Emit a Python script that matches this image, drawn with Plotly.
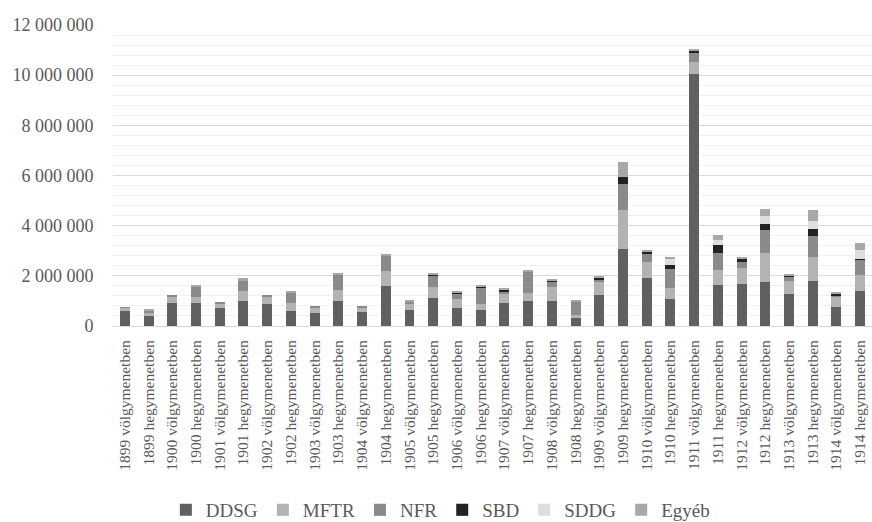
import plotly.graph_objects as go

# Categories: year + direction of travel
categories = [
    "1899 völgymenetben", "1899 hegymenetben",
    "1900 völgymenetben", "1900 hegymenetben",
    "1901 völgymenetben", "1901 hegymenetben",
    "1902 völgymenetben", "1902 hegymenetben",
    "1903 völgymenetben", "1903 hegymenetben",
    "1904 völgymenetben", "1904 hegymenetben",
    "1905 völgymenetben", "1905 hegymenetben",
    "1906 völgymenetben", "1906 hegymenetben",
    "1907 völgymenetben", "1907 hegymenetben",
    "1908 völgymenetben", "1908 hegymenetben",
    "1909 völgymenetben", "1909 hegymenetben",
    "1910 völgymenetben", "1910 hegymenetben",
    "1911 völgymenetben", "1911 hegymenetben",
    "1912 völgymenetben", "1912 hegymenetben",
    "1913 völgymenetben", "1913 hegymenetben",
    "1914 völgymenetben", "1914 hegymenetben",
]

# Carried tonnage per company
ddsg = [600000, 400000, 930000, 930000, 720000, 1000000, 880000, 600000,
        520000, 1000000, 560000, 1590000, 640000, 1130000, 720000, 640000,
        920000, 980000, 1000000, 300000, 1230000, 3060000, 1930000, 1060000,
        10050000, 1630000, 1660000, 1770000, 1260000, 1810000, 740000, 1380000]
mftr = [120000, 100000, 240000, 240000, 180000, 400000, 310000, 330000,
        200000, 430000, 170000, 600000, 230000, 430000, 360000, 230000,
        370000, 340000, 560000, 130000, 530000, 1580000, 640000, 460000,
        470000, 620000, 640000, 1140000, 530000, 960000, 400000, 670000]
nfr = [30000, 120000, 50000, 400000, 50000, 430000, 50000, 390000,
       40000, 620000, 70000, 640000, 90000, 470000, 200000, 660000,
       80000, 840000, 200000, 560000, 100000, 1040000, 340000, 760000,
       370000, 660000, 270000, 920000, 180000, 810000, 90000, 600000]
sbd = [0, 0, 0, 0, 0, 0, 0, 0,
       0, 0, 0, 0, 0, 40000, 40000, 50000,
       60000, 0, 50000, 0, 60000, 270000, 60000, 170000,
       90000, 320000, 90000, 240000, 50000, 300000, 40000, 40000]
sddg = [0, 0, 0, 0, 0, 0, 0, 0,
        0, 0, 0, 0, 0, 0, 0, 0,
        0, 0, 0, 0, 0, 0, 0, 230000,
        0, 200000, 0, 330000, 0, 320000, 0, 360000]
egyeb = [0, 40000, 0, 60000, 0, 70000, 0, 70000,
         0, 50000, 0, 40000, 40000, 30000, 50000, 40000,
         80000, 40000, 40000, 30000, 50000, 580000, 40000, 90000,
         40000, 200000, 80000, 280000, 60000, 410000, 80000, 250000]

series = [
    ("DDSG", ddsg, "#606060"),
    ("MFTR", mftr, "#b3b3b3"),
    ("NFR", nfr, "#8a8a8a"),
    ("SBD", sbd, "#222222"),
    ("SDDG", sddg, "#dedede"),
    ("Egyéb", egyeb, "#a8a8a8"),
]

y_ticks = [0, 2000000, 4000000, 6000000, 8000000, 10000000, 12000000]

FONT = "Liberation Serif"
TEXT = "#595959"

fig = go.Figure()
for name, vals, color in series:
    fig.add_trace(go.Bar(
        x=categories, y=vals, name=name,
        marker=dict(color=color, line=dict(width=0)),
    ))

fig.update_layout(
    barmode="stack",
    bargap=0.58,
    width=872, height=522,
    margin=dict(l=113, r=0, t=25, b=196),
    paper_bgcolor="white",
    plot_bgcolor="white",
    separators=", ",
    font=dict(family=FONT, color=TEXT),
    showlegend=True,
    legend=dict(
        orientation="h",
        traceorder="normal",
        xref="container", yref="container",
        x=0.505, xanchor="center",
        y=0.023, yanchor="middle",
        font=dict(size=19, family=FONT, color=TEXT),
        itemwidth=30,
        tracegroupgap=0,
    ),
    xaxis=dict(
        type="category",
        automargin=False,
        tickangle=-90,
        tickfont=dict(size=15.5, family=FONT, color=TEXT),
        showgrid=False,
        showline=True,
        linecolor="#d9d9d9",
        linewidth=1,
        ticks="outside",
        ticklen=7,
        tickcolor="rgba(0,0,0,0)",
    ),
    yaxis=dict(
        automargin=False,
        range=[0, 12000000],
        tickvals=y_ticks,
        tickformat=",.0f",
        tickfont=dict(size=18, family=FONT, color=TEXT),
        showgrid=True,
        gridcolor="#d9d9d9",
        gridwidth=1,
        zeroline=False,
        ticks="outside",
        ticklen=15,
        tickcolor="rgba(0,0,0,0)",
        minor=dict(dtick=400000, showgrid=True, gridcolor="#f0f0f0", gridwidth=1),
    ),
)

fig.write_html("out.html")
